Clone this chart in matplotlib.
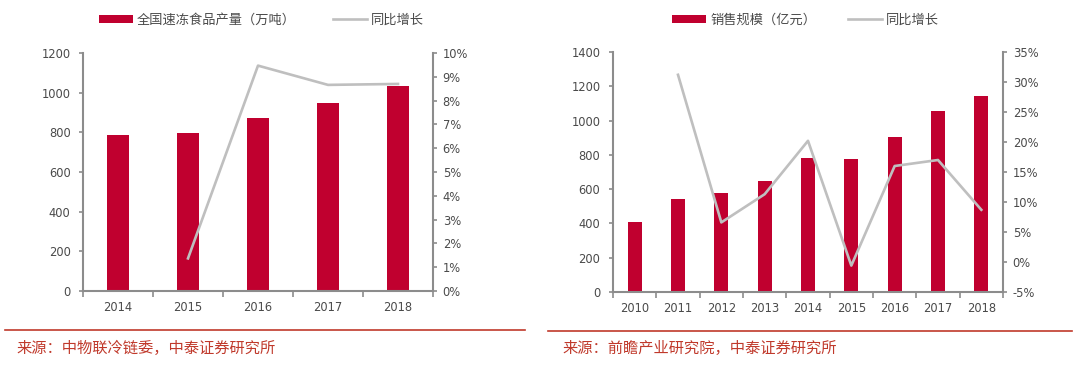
import matplotlib
matplotlib.use("Agg")
import matplotlib.pyplot as plt
import numpy as np
from matplotlib.ticker import FuncFormatter, MultipleLocator

plt.rcParams['font.family'] = ['DejaVu Sans', 'Noto Sans CJK SC']

# Left chart data
years_l = ['2014', '2015', '2016', '2017', '2018']
prod_l = [786, 795, 874, 949, 1034]
growth_l = [np.nan, 1.37, 9.47, 8.66, 8.70]
bar_label_l = '全国速冻食品产量（万吨）'
line_label = '同比增长'
source_l = '来源：中物联冷链委，中泰证券研究所'

# Right chart data
years_r = ['2010', '2011', '2012', '2013', '2014', '2015', '2016', '2017', '2018']
sales_r = [410, 542, 579, 646, 780, 774, 902, 1058, 1145]
growth_r = [np.nan, 31.2, 6.6, 11.3, 20.2, -0.6, 16.0, 17.0, 8.7]
bar_label_r = '销售规模（亿元）'
source_r = '来源：前瞻产业研究院，中泰证券研究所'

BAR = '#C0002F'
LINE = '#BFBFBF'
SPINE = '#8C8C8C'
TXT = '#4A4A4A'
SRC = '#C0392B'

fig = plt.figure(figsize=(10.8, 3.67), dpi=100)


def make(pos, cats, bars, growth, ymax, ystep, pmin, pmax, pstep, bw, blabel, legx, colsp):
    ax = fig.add_axes(pos)
    x = np.arange(len(cats))
    ax.bar(x, bars, width=bw, color=BAR, label=blabel, zorder=2)
    ax.set_xlim(-0.5, len(cats) - 0.5)
    ax.set_ylim(0, ymax)
    ax.yaxis.set_major_locator(MultipleLocator(ystep))
    ax.set_xticks(x)
    ax.set_xticklabels(cats)
    ax.set_xticks(np.arange(len(cats) + 1) - 0.5, minor=True)
    ax.tick_params(axis='x', which='major', length=0, pad=7, labelsize=8.3, labelcolor=TXT)
    ax.tick_params(axis='x', which='minor', length=4, color=SPINE, width=1.2, direction='out')
    ax.tick_params(axis='y', length=3, color=SPINE, width=1.2, labelsize=8.3, labelcolor=TXT, pad=6)
    for s in ['top', 'right']:
        ax.spines[s].set_visible(False)
    for s in ['left', 'bottom']:
        ax.spines[s].set_color(SPINE)
        ax.spines[s].set_linewidth(1.5)
    ax2 = ax.twinx()
    ax2.plot(x, growth, color=LINE, lw=1.9, label=line_label, zorder=3)
    ax2.set_ylim(pmin, pmax)
    ax2.yaxis.set_major_locator(MultipleLocator(pstep))
    ax2.yaxis.set_major_formatter(FuncFormatter(lambda v, p: f'{v:.0f}%'))
    ax2.tick_params(axis='y', length=3, color=SPINE, width=1.2, labelsize=8.3, labelcolor=TXT, pad=4)
    for s in ['top', 'left', 'bottom']:
        ax2.spines[s].set_visible(False)
    ax2.spines['right'].set_color(SPINE)
    ax2.spines['right'].set_linewidth(1.5)
    h1, l1 = ax.get_legend_handles_labels()
    h2, l2 = ax2.get_legend_handles_labels()
    fig.legend(h1 + h2, l1 + l2, loc='center', bbox_to_anchor=(legx, 0.945), ncol=2,
               frameon=False, fontsize=9.5, handlelength=2.6, handleheight=0.6,
               columnspacing=colsp, handletextpad=0.3,
               labelcolor=TXT)
    return ax, ax2


make([83 / 1080, 1 - 291 / 367, 350 / 1080, 238 / 367], years_l, prod_l, growth_l,
     1200, 200, 0, 10, 1, 0.31, bar_label_l, 0.242, 2.8)
make([613 / 1080, 1 - 292 / 367, 390 / 1080, 240 / 367], years_r, sales_r, growth_r,
     1400, 200, -5, 35, 5, 0.32, bar_label_r, 0.746, 2.4)

# Bottom red lines and sources
fig.add_artist(plt.Line2D([5 / 1080, 525 / 1080], [1 - 330 / 367] * 2, color=SRC, lw=1.2))
fig.add_artist(plt.Line2D([548 / 1080, 1072 / 1080], [1 - 331 / 367] * 2, color=SRC, lw=1.2))
fig.text(16 / 1080, 1 - 348 / 367, source_l, color=SRC, fontsize=11, va='center', ha='left',
         family=['Noto Sans CJK SC', 'DejaVu Sans'])
fig.text(562 / 1080, 1 - 348 / 367, source_r, color=SRC, fontsize=11, va='center', ha='left',
         family=['Noto Sans CJK SC', 'DejaVu Sans'])

fig.savefig('out.png', dpi=100)
